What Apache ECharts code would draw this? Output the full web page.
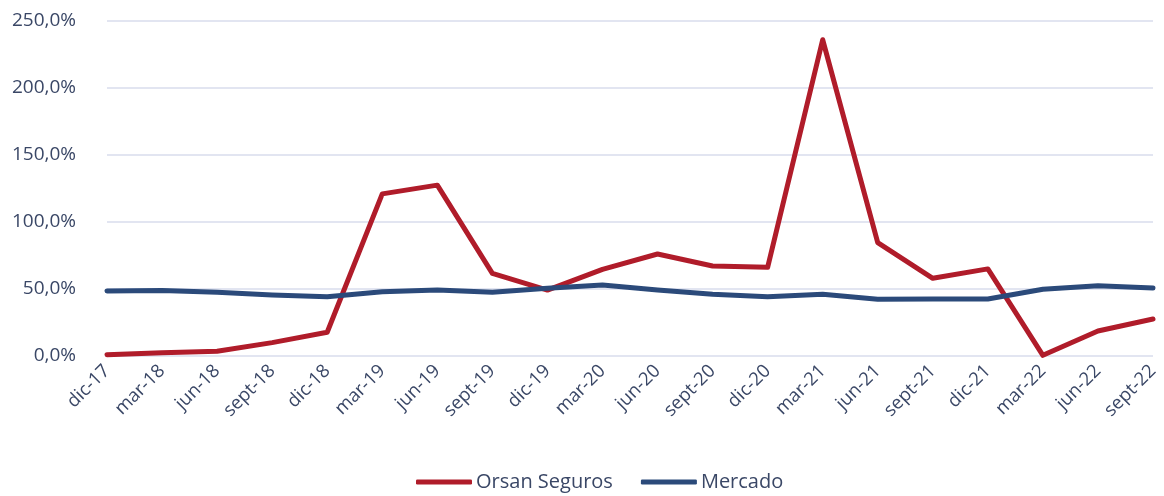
<!DOCTYPE html>
<html>
<head>
<meta charset="utf-8">
<script src="https://cdn.jsdelivr.net/npm/echarts@6/dist/echarts.min.js"></script>
<style>html,body{margin:0;padding:0;background:#fff;}#c{width:1164px;height:496px;}</style>
</head>
<body>
<div id="c"></div>
<script>
const categories = ["dic-17","mar-18","jun-18","sept-18","dic-18","mar-19","jun-19","sept-19","dic-19","mar-20","jun-20","sept-20","dic-20","mar-21","jun-21","sept-21","dic-21","mar-22","jun-22","sept-22"];
const orsan = [1.0, 2.5, 3.5, 10.0, 17.7, 121.0, 127.5, 61.7, 49.2, 64.7, 76.1, 67.2, 66.2, 236.0, 84.6, 58.0, 65.0, 0.5, 18.7, 27.6];
const mercado = [48.5, 48.8, 47.5, 45.5, 44.3, 48.0, 49.2, 47.5, 50.5, 53.0, 49.2, 46.0, 44.3, 46.0, 42.3, 42.5, 42.5, 49.8, 52.5, 50.7];
const seriesNames = ["Orsan Seguros", "Mercado"];
const yTicks = [0, 50, 100, 150, 200, 250];

const textColor = '#3A4766';
const fontFamily = '"Open Sans", "Noto Sans", sans-serif';
const chart = echarts.init(document.getElementById('c'), null, {renderer: 'canvas'});
chart.setOption({
  animation: false,
  textStyle: {fontFamily: fontFamily, color: textColor},
  grid: {left: 107, right: 11, top: 21, bottom: 140, containLabel: false},
  legend: {
    bottom: -1,
    left: 411,
    itemWidth: 56,
    itemHeight: 5,
    itemGap: 28,
    icon: 'roundRect',
    textStyle: {fontSize: 20, color: textColor, fontFamily: fontFamily, padding: [0,0,0,-1]},
    data: seriesNames
  },
  xAxis: {
    type: 'category',
    data: categories,
    boundaryGap: false,
    axisLine: {show: false},
    axisTick: {show: false},
    axisLabel: {rotate: 45, fontSize: 18.5, color: textColor, margin: 12, interval: 0, fontFamily: fontFamily}
  },
  yAxis: {
    type: 'value',
    min: yTicks[0],
    max: yTicks[yTicks.length - 1],
    interval: 50,
    axisLine: {show: false},
    axisTick: {show: false},
    splitLine: {lineStyle: {color: '#D9DCEC', width: 1.5}},
    axisLabel: {fontSize: 19, color: textColor, margin: 31, fontFamily: fontFamily,
      formatter: v => v.toFixed(1).replace('.', ',') + '%'}
  },
  series: [
    {name: seriesNames[0], type: 'line', data: orsan, symbol: 'none', lineStyle: {width: 5, color: '#B01C2A', cap: 'round', join: 'round'}, itemStyle: {color: '#B01C2A'}},
    {name: seriesNames[1], type: 'line', data: mercado, symbol: 'none', lineStyle: {width: 5, color: '#2B4A7A', cap: 'round', join: 'round'}, itemStyle: {color: '#2B4A7A'}}
  ]
});
</script>
</body>
</html>
